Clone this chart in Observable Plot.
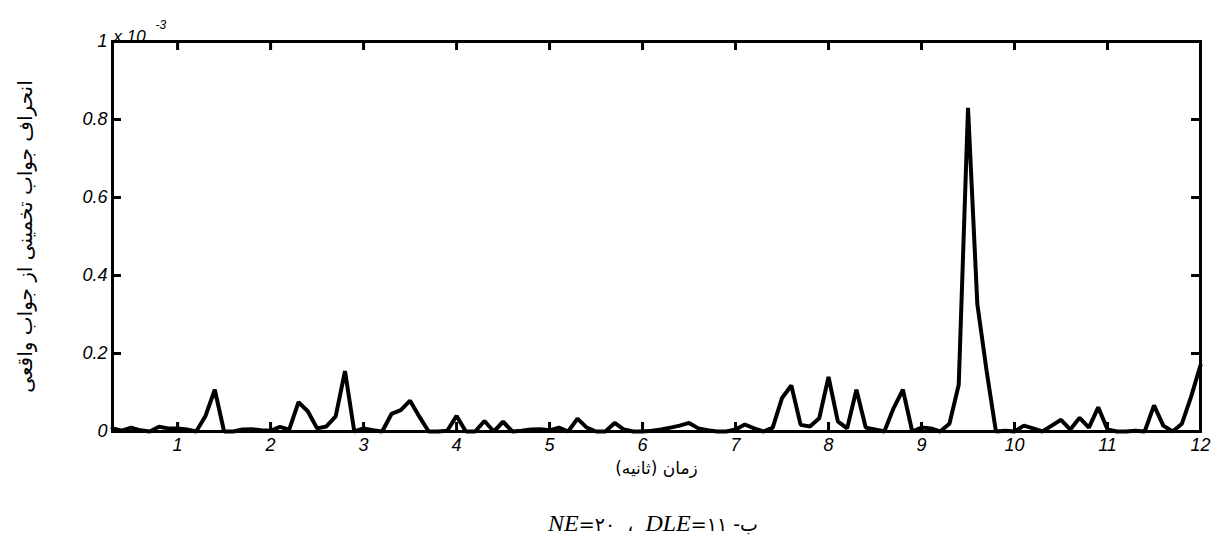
<!DOCTYPE html>
<html>
<head>
<meta charset="utf-8">
<script src="https://cdn.jsdelivr.net/npm/d3@7"></script>
<script src="https://cdn.jsdelivr.net/npm/@observablehq/plot@0.6"></script>
<style>
  body { margin: 0; background: #fff; }
  #chart svg { display: block; }
  #cap {
    width: 1216px; height: 64px; box-sizing: border-box;
    padding-top: 18px; padding-left: 90px; line-height: 30px; text-align: center;
    direction: ltr; font-size: 24px; color: #000;
  }
  #cap .lat { font-family: "Liberation Serif", serif; font-style: italic; }
  #cap .fa { font-family: "DejaVu Sans", sans-serif; font-size: 19px; }
</style>
</head>
<body>
<div id="chart"></div>
<div id="cap"></div>
<script>
// ---- data ----
const times = [
  0.3,0.4,0.5,0.6,0.7,0.8,0.9,1.0,1.1,1.2,1.3,1.4,1.5,1.6,1.7,1.8,1.9,2.0,2.1,2.2,
  2.3,2.4,2.5,2.6,2.7,2.8,2.9,3.0,3.1,3.2,3.3,3.4,3.5,3.6,3.7,3.8,3.9,4.0,4.1,4.2,
  4.3,4.4,4.5,4.6,4.7,4.8,4.9,5.0,5.1,5.2,5.3,5.4,5.5,5.6,5.7,5.8,5.9,6.0,6.1,6.2,
  6.3,6.4,6.5,6.6,6.7,6.8,6.9,7.0,7.1,7.2,7.3,7.4,7.5,7.6,7.7,7.8,7.9,8.0,8.1,8.2,
  8.3,8.4,8.5,8.6,8.7,8.8,8.9,9.0,9.1,9.2,9.3,9.4,9.5,9.6,9.7,9.8,9.9,10.0,10.1,10.2,
  10.3,10.4,10.5,10.6,10.7,10.8,10.9,11.0,11.1,11.2,11.3,11.4,11.5,11.6,11.7,11.8,11.9,12.0
];
// deviation, in units of 1e-3
const deviation = [
  0.008,0.002,0.010,0.003,0.000,0.012,0.008,0.008,0.005,0.000,0.040,0.107,0.000,0.000,0.005,0.006,0.003,0.002,0.012,0.005,
  0.075,0.052,0.008,0.013,0.039,0.155,0.000,0.008,0.003,0.000,0.045,0.055,0.079,0.038,0.000,0.000,0.002,0.040,0.000,0.000,
  0.027,0.000,0.025,0.000,0.002,0.005,0.006,0.003,0.010,0.000,0.033,0.010,0.000,0.000,0.022,0.005,0.000,0.000,0.002,0.005,
  0.010,0.015,0.022,0.008,0.003,0.000,0.000,0.005,0.018,0.008,0.000,0.010,0.086,0.118,0.017,0.013,0.034,0.140,0.026,0.008,
  0.107,0.010,0.005,0.000,0.060,0.107,0.000,0.010,0.008,0.000,0.020,0.120,0.830,0.327,0.155,0.000,0.002,0.000,0.015,0.008,
  0.000,0.015,0.030,0.005,0.035,0.010,0.062,0.005,0.000,0.000,0.002,0.000,0.067,0.015,0.000,0.020,0.090,0.170
];
const xTicks = [1,2,3,4,5,6,7,8,9,10,11,12];
const yTicks = [0,0.2,0.4,0.6,0.8,1];
const xDomain = [0.3, 12];
const yDomain = [0, 1];
const scaleNote = ["x 10"];
const scaleExp = ["-3"];
const xLabel = ["زمان (ثانیه)"];
const yLabel = ["انحراف جواب تخمینی از جواب واقعی"];
const captionParts = { fa: "-ب", ne: "NE", neVal: "=۲۰", sep: "  ،  ", dle: "DLE", dleVal: "=۱۱ " };

// ---- layout ----
const W = 1216, H = 490;
const mL = 112, mR = 16, mT = 41, mB = 59;
const plotW = W - mL - mR, plotH = H - mT - mB;
const tickLen = 9;

const rows = times.map((t, i) => ({t, v: deviation[i]}));
const latin = "'Liberation Sans', Arial, sans-serif";
const persian = "'DejaVu Sans', sans-serif";

const chart = Plot.plot({
  width: W, height: H,
  marginLeft: mL, marginRight: mR, marginTop: mT, marginBottom: mB,
  x: {domain: xDomain},
  y: {domain: yDomain},
  style: {background: "#fff", color: "#000"},
  marks: [
    Plot.line(rows, {x: "t", y: "v", stroke: "#000", strokeWidth: 4, strokeLinejoin: "miter"}),
    // inward ticks, bottom & top
    Plot.ruleX(xTicks, {x: d => d, insetTop: plotH - tickLen, strokeWidth: 3}),
    Plot.ruleX(xTicks, {x: d => d, insetBottom: plotH - tickLen, strokeWidth: 3}),
    // inward ticks, left & right
    Plot.ruleY(yTicks, {y: d => d, insetRight: plotW - tickLen, strokeWidth: 3}),
    Plot.ruleY(yTicks, {y: d => d, insetLeft: plotW - tickLen, strokeWidth: 3}),
    Plot.frame({stroke: "#000", strokeWidth: 3}),
    Plot.axisX(xTicks, {tickSize: 0, tickPadding: 7, label: null, fontSize: 18, fontStyle: "italic", fontFamily: latin, tickFormat: d => String(d)}),
    Plot.axisY(yTicks, {tickSize: 0, tickPadding: 5, label: null, fontSize: 18, fontStyle: "italic", fontFamily: latin, tickFormat: d => String(+d.toFixed(1))}),
    Plot.text(scaleNote, {text: d => d, frameAnchor: "top-left", dx: 1, dy: -12, textAnchor: "start", fontSize: 17, fontStyle: "italic", fontFamily: latin}),
    Plot.text(scaleExp, {text: d => d, frameAnchor: "top-left", dx: 43, dy: -21, textAnchor: "start", fontSize: 12, fontStyle: "italic", fontFamily: latin}),
    Plot.text(xLabel, {text: d => d, frameAnchor: "bottom", dy: 42, fontSize: 17, fontFamily: persian}),
    Plot.text(yLabel, {text: d => d, frameAnchor: "left", dx: -87, rotate: -90, textAnchor: "middle", fontSize: 20, fontFamily: persian})
  ]
});
document.getElementById("chart").appendChild(chart);

const cap = document.getElementById("cap");
cap.innerHTML =
  `<span class="lat">${captionParts.ne}</span><span class="fa">${captionParts.neVal}</span>` +
  `<span class="fa" style="white-space:pre">${captionParts.sep}</span>` +
  `<span class="lat">${captionParts.dle}</span><span class="fa" style="white-space:pre">${captionParts.dleVal}</span>` +
  `<span class="fa">${captionParts.fa}</span>`;
</script>
</body>
</html>
